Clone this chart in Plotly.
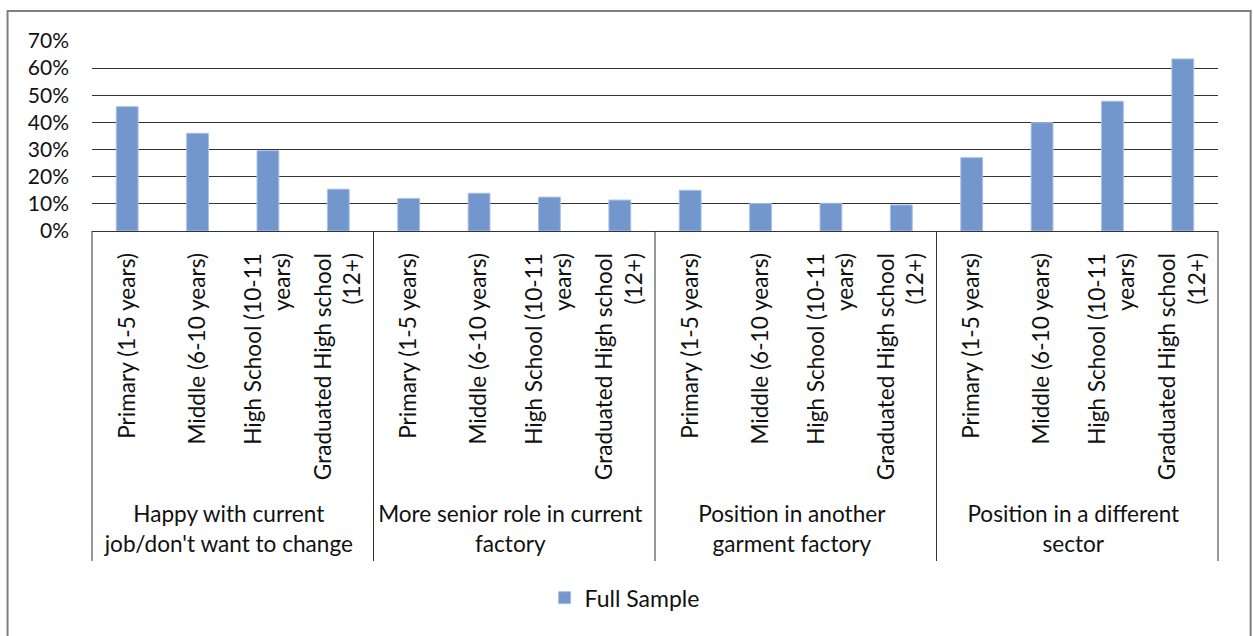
import plotly.graph_objects as go

groups = [
    "Happy with current<br>job/don't want to change",
    "More senior role in current<br>factory",
    "Position in another<br>garment factory",
    "Position in a different<br>sector",
]
levels = [
    "Primary (1-5 years)",
    "Middle (6-10 years)",
    "High School (10-11<br>years)",
    "Graduated High school<br>(12+)",
]
full_sample = [
    [0.458, 0.360, 0.296, 0.154],
    [0.120, 0.139, 0.125, 0.114],
    [0.150, 0.101, 0.102, 0.096],
    [0.270, 0.399, 0.478, 0.634],
]

# leading spaces push the group row a bit lower, like the Excel original
pad = "\u00a0" * 2
x_outer, x_inner, y_vals = [], [], []
for g, vals in zip(groups, full_sample):
    for lv, v in zip(levels, vals):
        x_outer.append(g)
        x_inner.append(pad + lv)
        y_vals.append(v)

FONT = "Lato"
fig = go.Figure()
fig.add_trace(go.Bar(
    x=[x_outer, x_inner], y=y_vals, name="Full Sample",
    marker=dict(color="#7397cd", line=dict(color="#a9c0e4", width=1)),
    width=0.31, showlegend=True,
))

fig.update_layout(
    width=1253, height=636,
    margin=dict(l=92, r=35, t=41, b=405),
    paper_bgcolor="white", plot_bgcolor="white",
    font=dict(family=FONT, size=22.6, color="#111111"),
    showlegend=True,
    legend=dict(orientation="h", x=0.473, xanchor="center", y=-1.93, yanchor="middle",
                font=dict(size=23)),
    bargap=0.69,
)
fig.update_yaxes(range=[0, 0.7], dtick=0.1, tickformat=".0%", showgrid=True,
                 gridcolor="#333333", gridwidth=1, zeroline=False,
                 ticks="", ticklabelstandoff=22, tickfont=dict(size=21))
fig.update_xaxes(type="multicategory", tickangle=-90, showline=True, linecolor="#333333",
                 showdividers=False, ticklabelstandoff=12)

# group dividers running down through the label area
for k in range(len(groups) + 1):
    fig.add_shape(type="line", xref="paper", yref="paper", x0=k / len(groups), x1=k / len(groups),
                  y0=0, y1=-1.737, line=dict(color="#333333", width=1))

fig.add_shape(type="rect", xref="paper", yref="paper", x0=-0.075, x1=1.029, y0=-2.2, y1=1.158,
              line=dict(color="#808080", width=2), fillcolor="rgba(0,0,0,0)", layer="below")

fig.write_html("out.html", post_script="document.body.style.margin='0px';",
               config={"displayModeBar": False})
